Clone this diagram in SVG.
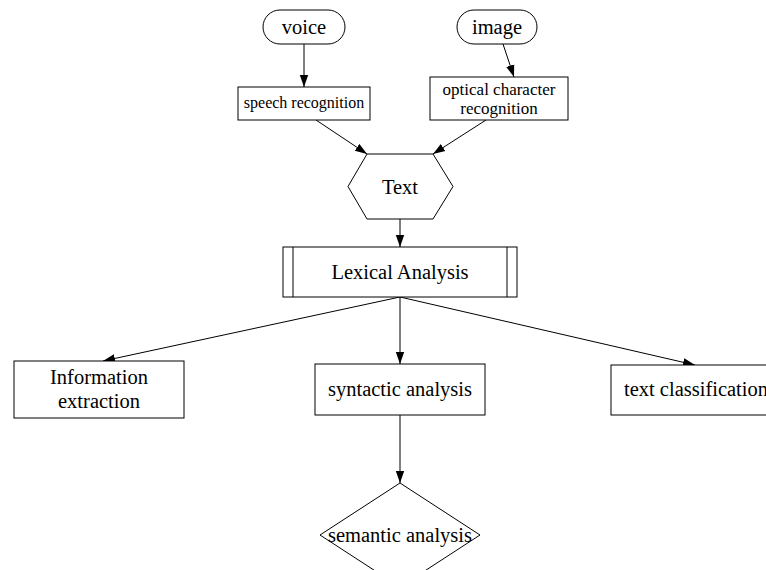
<svg xmlns="http://www.w3.org/2000/svg" width="766" height="570" viewBox="0 0 766 570">
<style>
.n{fill:#fff;stroke:#000;stroke-width:1}
.t{font-family:"Liberation Serif","Times New Roman",serif;font-size:20.5px;fill:#000;text-anchor:middle}
.s{font-size:16px}
.o{font-size:17px}
.e{stroke:#000;stroke-width:1;fill:none;marker-end:url(#ah)}
</style>
<defs>
<marker id="ah" markerUnits="userSpaceOnUse" markerWidth="12" markerHeight="10" refX="10" refY="3.5" orient="auto" viewBox="0 0 10 7">
<polygon points="0,0 10,3.5 0,7" fill="#000"/>
</marker>
</defs>
<rect width="766" height="570" fill="#fff"/>
<g id="edges">
<line class="e" x1="304" y1="44" x2="304" y2="87"/>
<line class="e" x1="503" y1="44" x2="514" y2="77"/>
<line class="e" x1="316" y1="120" x2="367" y2="154"/>
<line class="e" x1="486" y1="120" x2="433" y2="154"/>
<line class="e" x1="400" y1="219" x2="400" y2="247"/>
<line class="e" x1="400" y1="297" x2="103" y2="361"/>
<line class="e" x1="400" y1="297" x2="400" y2="364"/>
<line class="e" x1="400" y1="297" x2="695" y2="365"/>
<line class="e" x1="400" y1="415" x2="400" y2="483"/>
</g>
<g id="voice">
<rect class="n" x="263" y="10" width="82" height="34" rx="17" ry="17"/>
<text class="t" x="304" y="34">voice</text>
</g>
<g id="image">
<rect class="n" x="457" y="10" width="80" height="34" rx="17" ry="17"/>
<text class="t" x="497" y="34">image</text>
</g>
<g id="speech">
<rect class="n" x="238" y="87" width="132" height="33"/>
<text class="t s" x="304" y="108">speech recognition</text>
</g>
<g id="ocr">
<rect class="n" x="430" y="77" width="138" height="43"/>
<text class="t o" x="499" y="95">optical character</text>
<text class="t o" x="499" y="114">recognition</text>
</g>
<g id="text">
<polygon class="n" points="367,154 433,154 453,186.5 433,219 367,219 348,186.5"/>
<text class="t" x="400" y="194">Text</text>
</g>
<g id="lexical">
<rect class="n" x="283" y="247" width="234" height="50"/>
<line class="n" x1="293" y1="247" x2="293" y2="297"/>
<line class="n" x1="507" y1="247" x2="507" y2="297"/>
<text class="t" x="400" y="279">Lexical Analysis</text>
</g>
<g id="info">
<rect class="n" x="14" y="361" width="170" height="57"/>
<text class="t" x="99" y="384">Information</text>
<text class="t" x="99" y="408">extraction</text>
</g>
<g id="syntactic">
<rect class="n" x="315" y="364" width="170" height="51"/>
<text class="t" x="400" y="396">syntactic analysis</text>
</g>
<g id="classification">
<rect class="n" x="611" y="365" width="170" height="50"/>
<text class="t" x="696" y="396">text classification</text>
</g>
<g id="semantic">
<polygon class="n" points="400,483 480,535 400,587 320,535"/>
<text class="t" x="400" y="542">semantic analysis</text>
</g>
</svg>
